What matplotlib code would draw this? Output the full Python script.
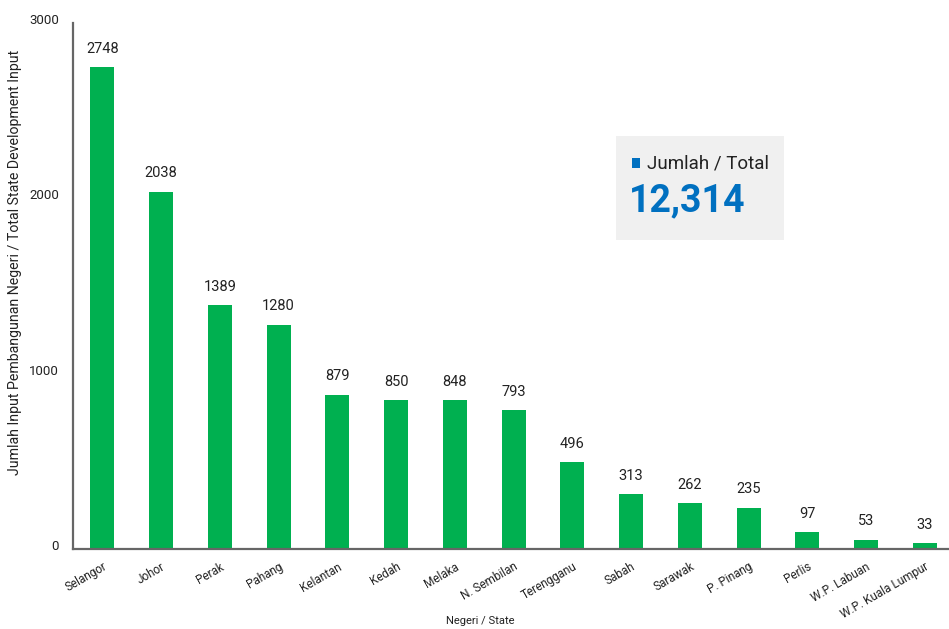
import matplotlib
matplotlib.use("Agg")
import matplotlib.pyplot as plt
from matplotlib.patches import Rectangle
import matplotlib.transforms as mtransforms

plt.rcParams['font.family'] = ['Roboto', 'DejaVu Sans']

states = ["Selangor", "Johor", "Perak", "Pahang", "Kelantan", "Kedah", "Melaka",
          "N. Sembilan", "Terengganu", "Sabah", "Sarawak", "P. Pinang", "Perlis",
          "W.P. Labuan", "W.P. Kuala Lumpur"]
values = [2748, 2038, 1389, 1280, 879, 850, 848, 793, 496, 313, 262, 235, 97, 53, 33]
yticks = [0, 1000, 2000, 3000]
total_label = "12,314"

fig = plt.figure(figsize=(9.49, 6.29), dpi=100)
ax = fig.add_axes([0.0769, 0.1272, 0.9231, 0.8362])

x = list(range(len(states)))
ax.bar(x, values, width=0.41, color="#00b050", zorder=2)
for xi, v in zip(x, values):
    ax.text(xi, v + 65, str(v), ha="center", va="bottom", fontsize=10.5, color="#222222")

ax.set_xlim(-0.5, 14.41)
ax.set_ylim(0, 3000)
ax.set_yticks(yticks)
ax.set_yticklabels([str(t) for t in yticks], fontsize=9.5, color="#222222")
ax.tick_params(axis="y", length=0, pad=10)
off = mtransforms.ScaledTranslation(0, 4/100, fig.dpi_scale_trans)
for lab in ax.get_yticklabels():
    lab.set_transform(lab.get_transform() + off)
ax.set_xticks(x)
ax.set_xticklabels(states, rotation=30, ha="right", rotation_mode="anchor",
                   fontsize=8.5, color="#222222")
ax.tick_params(axis="x", length=0, pad=8)

for s in ["top", "right"]:
    ax.spines[s].set_visible(False)
for s in ["left", "bottom"]:
    ax.spines[s].set_color("#666666")
    ax.spines[s].set_linewidth(1.6)

fig.text(480/949, 1-621/629, "Negeri / State", fontsize=8, color="#222222",
         ha="center", va="center")
fig.text(15/949, 1-262/629, "Jumlah Input Pembangunan Negeri / Total State Development Input",
         fontsize=10.2, color="#222222", rotation=90, ha="center", va="center")

# total box
box = Rectangle((616/949, 1-240/629), (784-616)/949, (240-136)/629,
                transform=fig.transFigure, facecolor="#f0f0f0", edgecolor="none", zorder=3)
fig.patches.append(box)
sq = Rectangle((632/949, 1-168/629), 8/949, 10/629, transform=fig.transFigure,
               facecolor="#0070c0", edgecolor="none", zorder=4)
fig.patches.append(sq)
fig.text(647/949, 1-163/629, "Jumlah / Total", fontsize=13.5, color="#222222",
         va="center", ha="left", zorder=5)
fig.text(629/949, 1-201/629, total_label, fontsize=27, fontweight="bold", color="#0070c0",
         va="center", ha="left", zorder=5)

fig.savefig("out.png", dpi=100)
